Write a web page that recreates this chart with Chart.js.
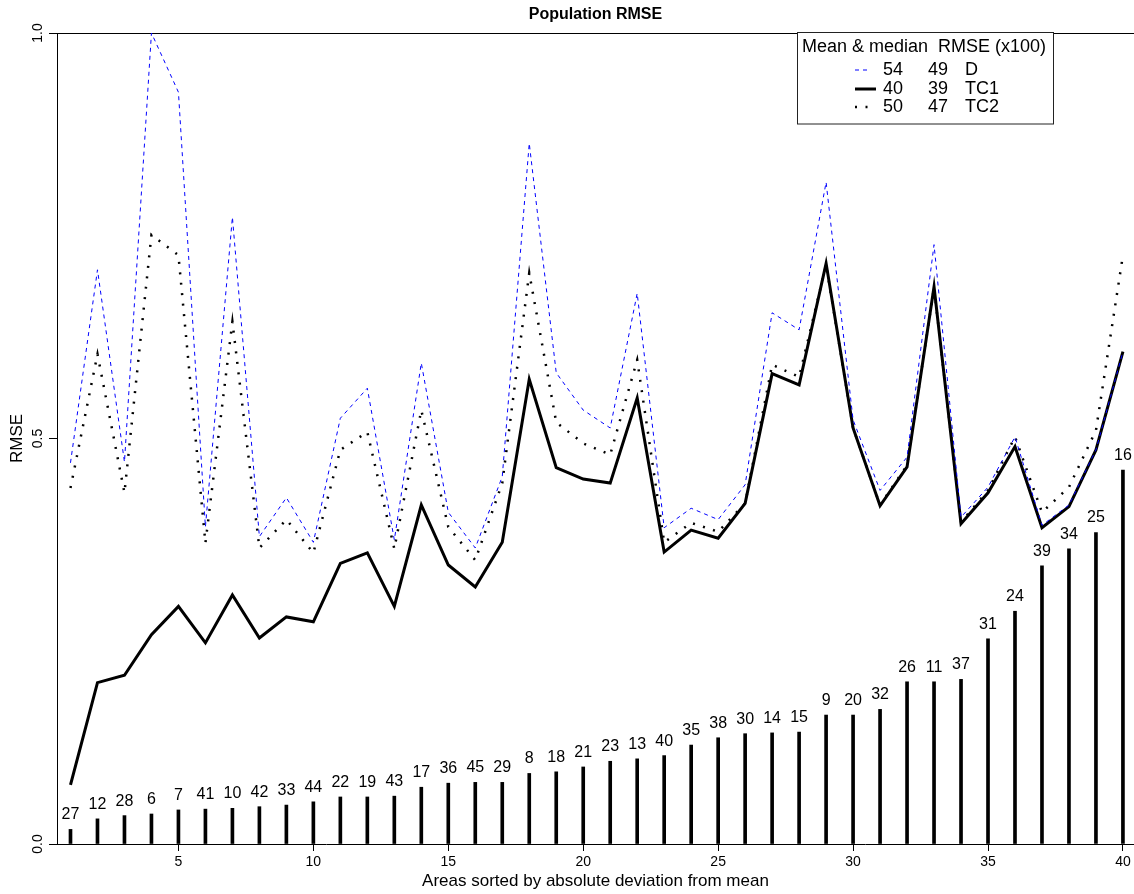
<!DOCTYPE html>
<html><head><meta charset="utf-8">
<script src="https://cdn.jsdelivr.net/npm/chart.js@4.4.0/dist/chart.umd.min.js"></script>
<style>html,body{margin:0;padding:0;background:#fff;} #wrap{position:relative;width:1134px;height:894px;}</style>
</head><body><div id="wrap"><canvas id="c"></canvas></div>
<script>
const positions = [1,2,3,4,5,6,7,8,9,10,11,12,13,14,15,16,17,18,19,20,21,22,23,24,25,26,27,28,29,30,31,32,33,34,35,36,37,38,39,40];
const areaIds = [27,12,28,6,7,41,10,42,33,44,22,19,43,17,36,45,29,8,18,21,23,13,40,35,38,30,14,15,9,20,32,26,11,37,31,24,39,34,25,16];
const barHeights = [0.018,0.031,0.035,0.037,0.042,0.043,0.044,0.046,0.048,0.052,0.058,0.058,0.059,0.070,0.075,0.076,0.076,0.087,0.089,0.095,0.102,0.105,0.109,0.122,0.131,0.136,0.137,0.138,0.159,0.159,0.166,0.200,0.200,0.203,0.253,0.287,0.343,0.364,0.384,0.461];
const rmseD = [0.470,0.708,0.471,1.000,0.927,0.391,0.773,0.379,0.427,0.372,0.525,0.562,0.375,0.593,0.409,0.365,0.453,0.864,0.581,0.535,0.513,0.679,0.390,0.414,0.400,0.443,0.655,0.634,0.816,0.523,0.436,0.477,0.739,0.403,0.440,0.502,0.393,0.418,0.486,0.607];
const rmseTC1 = [0.073,0.199,0.208,0.258,0.293,0.248,0.307,0.254,0.280,0.274,0.346,0.359,0.293,0.418,0.344,0.317,0.372,0.573,0.464,0.450,0.445,0.550,0.360,0.387,0.377,0.420,0.580,0.566,0.716,0.513,0.417,0.465,0.687,0.395,0.433,0.490,0.390,0.416,0.486,0.607];
const rmseTC2 = [0.439,0.604,0.433,0.751,0.726,0.371,0.644,0.365,0.400,0.359,0.486,0.508,0.364,0.535,0.391,0.350,0.445,0.704,0.520,0.494,0.480,0.597,0.372,0.396,0.385,0.420,0.591,0.576,0.714,0.513,0.418,0.467,0.686,0.397,0.436,0.502,0.409,0.440,0.510,0.726];
const xTickValues = [5,10,15,20,25,30,35,40];
const yTickValues = [0,0.5,1];
const legendHeader = 'Mean & median  RMSE (x100)';
const seriesNames = ['D','TC1','TC2'];
const seriesMeans = [54,40,50];
const seriesMedians = [49,39,47];
const chartTitle = 'Population RMSE';
const xTitle = 'Areas sorted by absolute deviation from mean';
const yTitle = 'RMSE';

const FONT = '"Liberation Sans", Arial, Helvetica, sans-serif';
Chart.defaults.font.family = FONT;
Chart.defaults.color = '#000';

const styles = [
  {color:'#0000ff', width:1, dash:[4,4]},
  {color:'#000000', width:3, dash:[]},
  {color:'#000000', width:2.5, dash:[2,8.5]}
];

const pts = arr => positions.map((x,i)=>({x:x, y:arr[i]}));

const decor = {
  id:'decor',
  afterDatasetsDraw(chart){
    const ctx = chart.ctx;
    const meta = chart.getDatasetMeta(3);
    ctx.save();
    ctx.font = '16px ' + FONT;
    ctx.fillStyle = '#000';
    ctx.textAlign = 'center';
    ctx.textBaseline = 'middle';
    meta.data.forEach((el,i)=>{ ctx.fillText(String(areaIds[i]), el.x, el.y - 14.5); });
    ctx.restore();
  },
  afterDraw(chart){
    const ctx = chart.ctx, ca = chart.chartArea, ys = chart.scales.y;
    ctx.save();
    // title
    ctx.font = 'bold 16px ' + FONT;
    ctx.fillStyle = '#000';
    ctx.textAlign = 'center';
    ctx.textBaseline = 'middle';
    ctx.fillText(chartTitle, (ca.left + ca.right)/2, 14.5);
    // y tick labels (rotated)
    ctx.font = '14px ' + FONT;
    yTickValues.forEach(v=>{
      const py = ys.getPixelForValue(v);
      ctx.save();
      ctx.translate(38, py);
      ctx.rotate(-Math.PI/2);
      ctx.fillText(v.toFixed(1), 0, 0);
      ctx.restore();
    });
    // legend
    const bx = 797.5, by = 32.5, bw = 256, bh = 91.5;
    ctx.fillStyle = '#fff';
    ctx.fillRect(bx, by, bw, bh);
    ctx.strokeStyle = '#222';
    ctx.lineWidth = 1;
    ctx.strokeRect(bx, by, bw, bh);
    ctx.fillStyle = '#000';
    ctx.font = '18px ' + FONT;
    ctx.textAlign = 'left';
    ctx.fillText(legendHeader, 802, 47);
    const rows = [70, 89, 107];
    rows.forEach((ry,i)=>{
      const s = styles[i];
      ctx.beginPath();
      ctx.strokeStyle = s.color;
      ctx.lineWidth = s.width;
      ctx.setLineDash(s.dash);
      ctx.moveTo(855, ry);
      ctx.lineTo(i===1 ? 876 : 870, ry);
      ctx.stroke();
      ctx.setLineDash([]);
      ctx.fillStyle = '#000';
      ctx.fillText(String(seriesMeans[i]), 883, ry);
      ctx.fillText(String(seriesMedians[i]), 928, ry);
      ctx.fillText(seriesNames[i], 965, ry);
    });
    ctx.restore();
  }
};

const lineDs = (label, arr, s) => ({
  type:'line', label:label, data:pts(arr), borderColor:s.color, borderWidth:s.width,
  borderDash:s.dash, pointRadius:0, pointHoverRadius:0, fill:false, tension:0, order:1,
  borderJoinStyle:'miter', clip:false
});

new Chart(document.getElementById('c'), {
  type:'line',
  data:{
    datasets:[
      lineDs(seriesNames[0], rmseD, styles[0]),
      lineDs(seriesNames[1], rmseTC1, styles[1]),
      lineDs(seriesNames[2], rmseTC2, styles[2]),
      {type:'bar', label:'areas', data:pts(barHeights), backgroundColor:'#000', borderWidth:0, barThickness:3, order:2}
    ]
  },
  options:{
    responsive:true, maintainAspectRatio:false, animation:false,
    layout:{padding:{top:33,left:0,right:0,bottom:0}},
    plugins:{legend:{display:false}, title:{display:false}, tooltip:{enabled:false}},
    events:[],
    scales:{
      x:{type:'linear', min:0.5, max:40.41, offset:false,
        afterBuildTicks: s=>{ s.ticks = xTickValues.map(v=>({value:v})); },
        ticks:{font:{size:14}, color:'#000', padding:3, maxRotation:0, autoSkip:false},
        grid:{drawOnChartArea:false, drawTicks:true, tickLength:7, color:'#000', offset:false},
        border:{display:true, color:'#000', width:1},
        title:{display:true, text:xTitle, font:{size:17}, color:'#000', padding:{top:0,bottom:2}},
        afterFit: s=>{ s.height = 50; }
      },
      y:{min:0, max:1,
        afterBuildTicks: s=>{ s.ticks = yTickValues.map(v=>({value:v})); },
        ticks:{display:false},
        grid:{color: c => (c.tick && c.tick.value===1) ? '#000' : 'rgba(0,0,0,0)', tickColor:'#000', tickLength:8, drawTicks:true, lineWidth:1},
        border:{display:true, color:'#000', width:1},
        title:{display:true, text:yTitle, font:{size:17}, color:'#000', padding:{top:7}},
        afterFit: s=>{ s.width = 57; }
      }
    }
  },
  plugins:[decor]
});
</script>
</body></html>
